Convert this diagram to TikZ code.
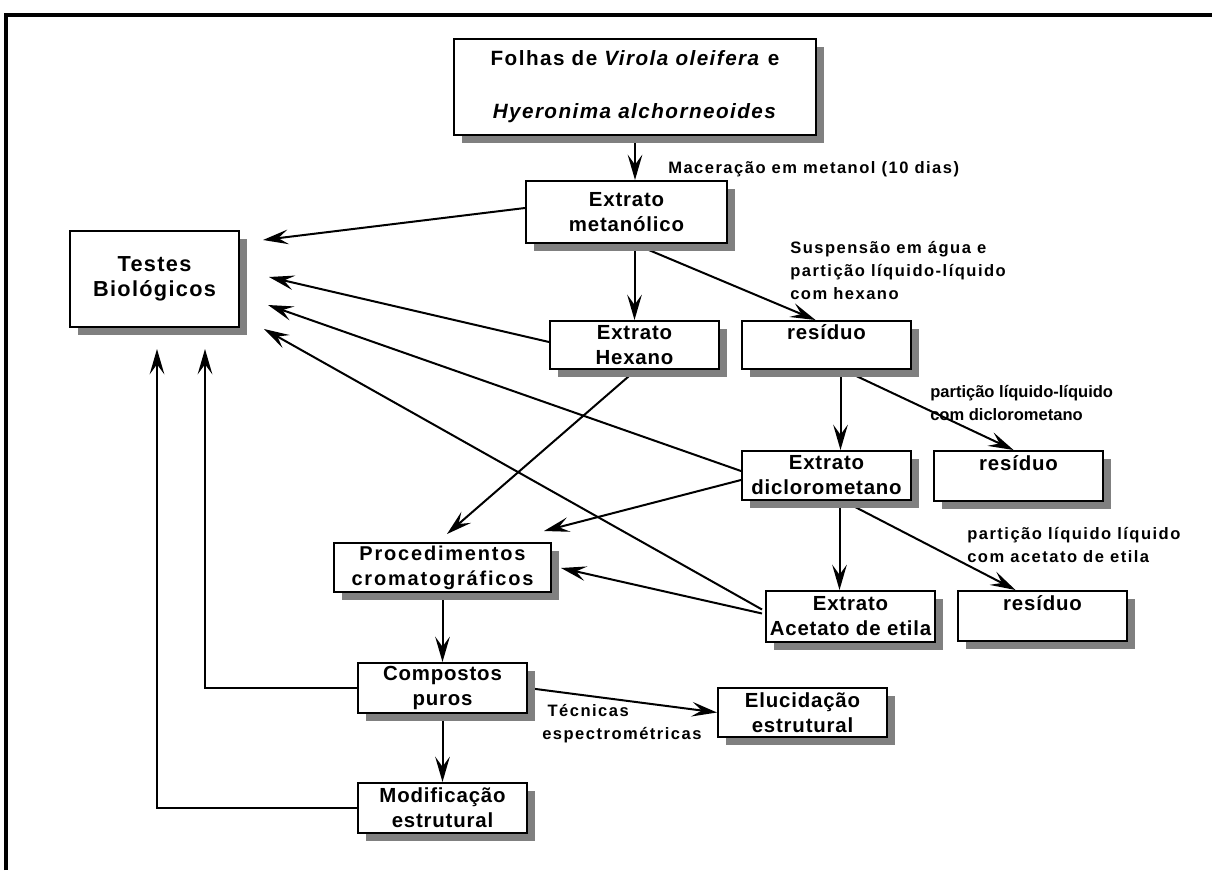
\documentclass[tikz,border=0pt]{standalone}
\usepackage{fontspec}
\setmainfont{Liberation Sans}
\newfontfamily\boxfont{Liberation Sans}[LetterSpace=4]
\newfontfamily\testfont{Liberation Sans}[LetterSpace=6]
\newfontfamily\procfont{Liberation Sans}[LetterSpace=9]
\newfontfamily\titlefont{Liberation Sans}[LetterSpace=7]
\newfontfamily\lblfont{Liberation Sans}[LetterSpace=9]
\newfontfamily\lblfontB{Liberation Sans}
\usetikzlibrary{arrows.meta,shadows,calc}
\definecolor{shgray}{RGB}{128,128,128}
\pgfdeclarelayer{bg}
\pgfsetlayers{bg,main}
\begin{document}
\begin{tikzpicture}[x=0.75pt,y=-0.75pt,
  bx/.style={draw, line width=1.5pt, fill=white, inner sep=0pt, align=center,
    font=\boxfont\bfseries\fontsize{15.3}{18.75}\selectfont,
    general shadow={fill=shgray, shadow xshift=6pt, shadow yshift=-6pt}},
  ln/.style={line width=1.5pt},
  arr/.style={ln, -{Stealth[length=19pt,width=11pt,inset=7.5pt]}},
  lbl/.style={inner sep=0pt, align=left, anchor=base west,
    font=\lblfont\bfseries\fontsize{12.4}{16.9}\selectfont}]
\useasboundingbox (0,0) rectangle (1212,870);
\draw[line width=3pt] (5.5,870) -- (5.5,15.5) -- (1212,15.5);

% boxes
\node[bx, font=\titlefont\bfseries\fontsize{15.5}{18.75}\selectfont, minimum width=271.5pt, minimum height=72pt] (folhas) at (635,87)
  {Folhas de \textit{Virola oleifera} e\\[21pt]\textit{Hyeronima alchorneoides}};
\node[bx, minimum width=150.75pt, minimum height=46.5pt] (metan) at (626.5,212) {Extrato\\metanólico};
\node[bx, font=\testfont\bfseries\fontsize{16.3}{19}\selectfont, minimum width=126.75pt, minimum height=72pt] (testes) at (154.5,279) {Testes\\Biológicos};
\node[bx, minimum width=126.75pt, minimum height=36pt] (hexano) at (634.5,345) {Extrato\\Hexano};
\node[bx, minimum width=126.75pt, minimum height=36pt] (res1) at (826.5,345) {resíduo\\\mbox{}};
\node[bx, minimum width=126.75pt, minimum height=36.75pt] (diclo) at (826.5,475.5) {Extrato\\diclorometano};
\node[bx, minimum width=126.75pt, minimum height=37.5pt] (res2) at (1018.5,476) {resíduo\\\mbox{}};
\node[bx, minimum width=126.75pt, minimum height=38.25pt] (acet) at (850.5,616.5) {Extrato\\Acetato de etila};
\node[bx, minimum width=126.75pt, minimum height=37.5pt] (res3) at (1042.5,616) {resíduo\\\mbox{}};
\node[bx, font=\procfont\bfseries\fontsize{15}{18.75}\selectfont, minimum width=162.75pt, minimum height=36.75pt] (proc) at (442.5,567.5) {Procedimentos\\cromatográficos};
\node[bx, minimum width=126.75pt, minimum height=37.5pt] (comp) at (442.5,688) {Compostos\\puros};
\node[bx, minimum width=126.75pt, minimum height=37.5pt] (modif) at (442.5,808) {Modificação\\estrutural};
\node[bx, minimum width=126.75pt, minimum height=36.75pt] (eluc) at (802.5,712.5) {Elucidação\\estrutural};

% labels (base = baseline of last line)
\node[lbl] (l1) at (668,173) {Maceração em metanol (10 dias)};
\node[lbl] (l2) at (790,299) {Suspensão em água e\\partição líquido-líquido\\com hexano};
\node[lbl, font=\lblfontB\bfseries\fontsize{12.4}{16.9}\selectfont] (l3) at (930,420) {partição líquido-líquido\\com diclorometano};
\node[lbl] (l4) at (967,562) {partição líquido líquido\\com acetato de etila};
\node[lbl] (l5) at (542,739) {\hspace{4pt}Técnicas\\espectrométricas};

% free ends
\coordinate (tb1) at ($(testes.east)+(23,-39)$);
\coordinate (tb2) at ($(testes.east)+(29,-2)$);
\coordinate (tb3) at ($(testes.east)+(28,26)$);
\coordinate (tb4) at ($(testes.east)+(24,50)$);
\coordinate (tu1) at ($(testes.south)+(2.5,21)$);
\coordinate (tu2) at ($(testes.south)+(50.5,21)$);
\coordinate (pe) at ($(proc.east)+(9,0.5)$);
\coordinate (pn1) at ($(proc.north east)+(-8,-11)$);
\coordinate (pn2) at ($(proc.north)+(4.5,-8)$);

\begin{pgfonlayer}{bg}
\draw[arr] (folhas.south) -- (folhas.south |- metan.north);
\draw[arr] ($(metan.west)+(0,-4)$) -- (tb1);
\draw[arr] (hexano.north |- metan.south) -- (hexano.north);
\draw[arr] (hexano.north |- metan.south) -- ($(res1.north)+(-11,0)$);
\draw[arr] ($(hexano.west)+(0,-3)$) -- (tb2);
\draw[arr] ($(diclo.west)+(0,-4.5)$) -- (tb3);
\draw[arr] ($(acet.west)+(-3,-7)$) -- (tb4);
\draw[arr] ($(acet.west)+(-3,-3)$) -- (pe);
\draw[arr] ($(diclo.west)+(0,4.5)$) -- (pn1);
\draw[arr] ($(hexano.south)+(1.5,0)$) -- (pn2);
\draw[arr] ($(res1.south)+(14,0)$) -- ($(diclo.north)+(14,0)$);
\draw[arr] ($(res1.south)+(17,0)$) -- ($(res2.north)+(-5,0)$);
\draw[arr] ($(diclo.south)+(13,0)$) -- ($(acet.north)+(-11,0)$);
\draw[arr] ($(diclo.south)+(17,0)$) -- ($(res3.north)+(-27,0)$);
\draw[arr] (proc.south) -- (comp.north);
\draw[arr] (comp.south) -- (modif.north);
\draw[arr] (comp.east) -- (eluc.west);
\draw[arr] (comp.west) -| (tu2);
\draw[arr] (modif.west) -| (tu1);
\end{pgfonlayer}
\end{tikzpicture}
\end{document}
